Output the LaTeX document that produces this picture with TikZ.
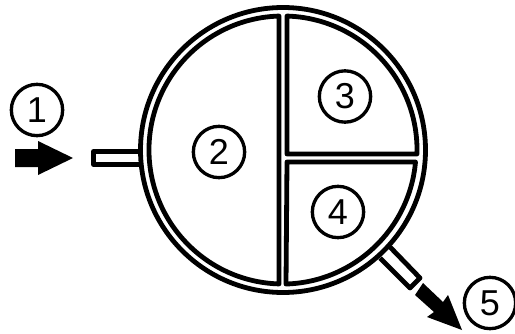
\documentclass[tikz,border=0pt]{standalone}
\usepackage{fontspec}
\setmainfont{Liberation Sans}
\tikzset{
  px/.style={x=.75pt,y=.75pt},
  wall/.style={draw=black,line width=3.6pt,line join=round},
  num/.style={circle,draw=black,line width=2.5pt,minimum size=38.5pt,inner sep=0pt,font=\fontsize{27}{27}\selectfont},
  flow/.style={fill=black,draw=none}
}
\begin{document}
\begin{tikzpicture}[px]
\useasboundingbox (0,0) rectangle (515,333);
\coordinate (C) at (283,183);
% inlet pipe
\draw[wall] (139,181.6) -- (93.4,181.6) -- (93.4,168.7) -- (139,168.7);
% outlet pipe
\draw[wall] (390,86) -- (420,55) -- (410,45) -- (380,75);
% outer wall
\draw[wall,fill=white] (C) circle[radius=142.5];
% compartments
\draw[wall] (279,316.94) arc[start angle=91.7,end angle=268.3,radius=100.5pt] -- cycle;
\draw[wall] (287,179) -- (287,316.94) arc[start angle=88.3,end angle=-1.7,radius=100.5pt] -- cycle;
\draw[wall] (287,171) -- (415.5,171) arc[start angle=-5.1,end angle=-88.3,radius=100.5pt] -- cycle;
% arrows
\path[flow] (15,184) -- (38,184) -- (38,192) -- (73,175) -- (38,158) -- (38,166) -- (15,166) -- cycle;
\path[flow] (423,50) -- (443,31) -- (448,38) -- (462,3) -- (427,16) -- (434,21) -- (415,38) -- cycle;
% labels
\node[num] (n1) at (37,223) {1};
\node[num] (n2) at (219,181) {2};
\node[num] (n3) at (345,236.5) {3};
\node[num] (n4) at (338,121) {4};
\node[num] (n5) at (490,30) {5};
\end{tikzpicture}
\end{document}
